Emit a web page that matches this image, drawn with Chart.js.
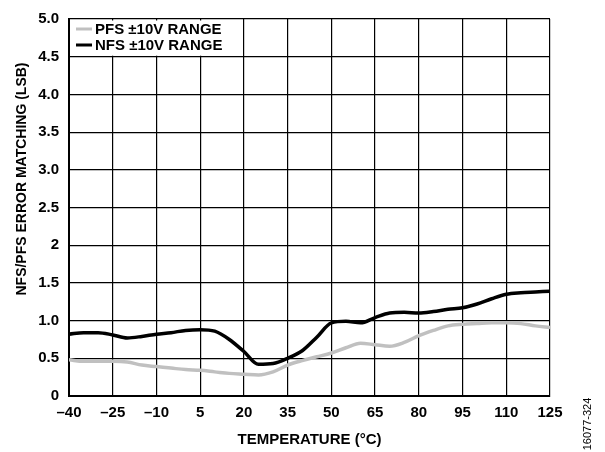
<!DOCTYPE html>
<html>
<head>
<meta charset="utf-8">
<script src="https://cdn.jsdelivr.net/npm/chart.js@4/dist/chart.umd.min.js"></script>
<style>
  html, body { margin: 0; padding: 0; background: #fff; }
  #wrap { width: 605px; height: 452px; }
</style>
</head>
<body>
<div id="wrap"><canvas id="errChart" width="605" height="452"></canvas></div>
<script>
// temperature, degC
var temps = [-40, -35, -30, -25, -20, -15, -10, -5, 0, 5, 10, 15, 20, 25, 30, 35, 40, 45, 50, 55, 60, 65, 70, 75, 80, 85, 90, 95, 100, 105, 110, 115, 120, 125]
var pfsValues = [0.48, 0.46, 0.46, 0.46, 0.45, 0.41, 0.39, 0.37, 0.35, 0.34, 0.32, 0.30, 0.29, 0.28, 0.32, 0.41, 0.47, 0.52, 0.57, 0.64, 0.70, 0.68, 0.66, 0.71, 0.80, 0.87, 0.93, 0.95, 0.96, 0.97, 0.97, 0.96, 0.93, 0.91]
var nfsValues = [0.82, 0.84, 0.84, 0.81, 0.77, 0.79, 0.82, 0.84, 0.87, 0.88, 0.86, 0.75, 0.59, 0.42, 0.43, 0.50, 0.60, 0.78, 0.97, 0.99, 0.97, 1.04, 1.10, 1.11, 1.10, 1.12, 1.15, 1.17, 1.22, 1.29, 1.35, 1.37, 1.38, 1.39]
var seriesLabels = ['PFS \u00b110V RANGE', 'NFS \u00b110V RANGE']
var xTickLabels = {'-40': '\u201340', '-25': '\u201325', '-10': '\u201310', '5': '5', '20': '20', '35': '35', '50': '50', '65': '65', '80': '80', '95': '95', '110': '110', '125': '125'}
var yTickLabels = {'0': '0', '0.5': '0.5', '1': '1.0', '1.5': '1.5', '2': '2', '2.5': '2.5', '3': '3.0', '3.5': '3.5', '4': '4.0', '4.5': '4.5', '5': '5.0'}
var xTitle = 'TEMPERATURE (\u00b0C)'
var yTitle = 'NFS/PFS ERROR MATCHING (LSB)'
var figureId = '16077-324'

var FONT = '"Liberation Sans", Arial, sans-serif'

function toPoints(vals) {
  return temps.map(function (t, i) { return { x: t, y: vals[i] } })
}

// legend box, axis titles and figure number
var decorPlugin = {
  id: 'decor',
  beforeDatasetsDraw: function (chart) {
    var ctx = chart.ctx
    var xs = chart.scales.x
    var ys = chart.scales.y
    var area = chart.chartArea
    ctx.save()
    ctx.fillStyle = '#fff'
    var x1 = xs.getPixelForValue(20)
    var y1 = ys.getPixelForValue(4.5)
    ctx.fillRect(area.left + 1.5, area.top + 1.5, x1 - area.left - 2.5, y1 - area.top - 2.5)

    ctx.font = 'bold 15px ' + FONT
    ctx.textBaseline = 'middle'
    ctx.textAlign = 'left'
    chart.data.datasets.forEach(function (ds, i) {
      var yy = area.top + 10 + i * 16
      ctx.strokeStyle = ds.borderColor
      ctx.lineWidth = 3
      ctx.beginPath()
      ctx.moveTo(area.left + 7, yy)
      ctx.lineTo(area.left + 23, yy)
      ctx.stroke()
      ctx.fillStyle = '#000'
      ctx.fillText(ds.label, area.left + 26, yy + 1)
    })
    ctx.restore()
  },
  afterDraw: function (chart) {
    var ctx = chart.ctx
    var area = chart.chartArea
    ctx.save()
    ctx.fillStyle = '#000'
    ctx.textAlign = 'center'
    ctx.textBaseline = 'middle'
    ctx.font = 'bold 15px ' + FONT
    ctx.fillText(xTitle, (area.left + area.right) / 2, 440)

    ctx.font = 'bold 14px ' + FONT
    ctx.translate(22, 179)
    ctx.rotate(-Math.PI / 2)
    ctx.fillText(yTitle, 0, 0)
    ctx.restore()

    ctx.save()
    ctx.fillStyle = '#000'
    ctx.font = '11px ' + FONT
    ctx.textAlign = 'center'
    ctx.textBaseline = 'middle'
    ctx.translate(588, 424)
    ctx.rotate(-Math.PI / 2)
    ctx.fillText(figureId, 0, 0)
    ctx.restore()
  }
}

var ctx = document.getElementById('errChart').getContext('2d')
var errChart = new Chart(ctx, {
  type: 'line',
  data: {
    datasets: [
      {
        label: seriesLabels[0],
        data: toPoints(pfsValues),
        borderColor: '#c0c0c0',
        borderWidth: 3.5,
        pointRadius: 0,
        fill: false,
        cubicInterpolationMode: 'monotone'
      },
      {
        label: seriesLabels[1],
        data: toPoints(nfsValues),
        borderColor: '#000',
        borderWidth: 3.5,
        pointRadius: 0,
        fill: false,
        cubicInterpolationMode: 'monotone'
      }
    ]
  },
  options: {
    responsive: false,
    animation: false,
    devicePixelRatio: 1,
    layout: {
      padding: { left: 0, right: 55, top: 13, bottom: 0 }
    },
    plugins: {
      legend: { display: false },
      tooltip: { enabled: false }
    },
    scales: {
      x: {
        type: 'linear',
        min: -40,
        max: 125,
        afterBuildTicks: function (scale) {
          scale.ticks = Object.keys(xTickLabels).map(function (v) { return { value: Number(v) } })
        },
        afterFit: function (scale) { scale.height = 56 },
        ticks: {
          color: '#000',
          padding: 8,
          maxRotation: 0,
          autoSkip: false,
          font: { family: FONT, size: 15, weight: 'bold' },
          callback: function (value) { return xTickLabels[String(value)] }
        },
        grid: { color: '#000', lineWidth: 1.2, drawTicks: false },
        border: { color: '#000', width: 2 }
      },
      y: {
        min: 0,
        max: 5,
        afterBuildTicks: function (scale) {
          scale.ticks = Object.keys(yTickLabels).map(function (v) { return { value: Number(v) } })
        },
        afterFit: function (scale) { scale.width = 69 },
        ticks: {
          color: '#000',
          padding: 10,
          autoSkip: false,
          font: { family: FONT, size: 15, weight: 'bold' },
          callback: function (value) { return yTickLabels[String(value)] }
        },
        grid: { color: '#000', lineWidth: 1.2, drawTicks: false },
        border: { color: '#000', width: 2 }
      }
    }
  },
  plugins: [decorPlugin]
})
</script>
</body>
</html>
